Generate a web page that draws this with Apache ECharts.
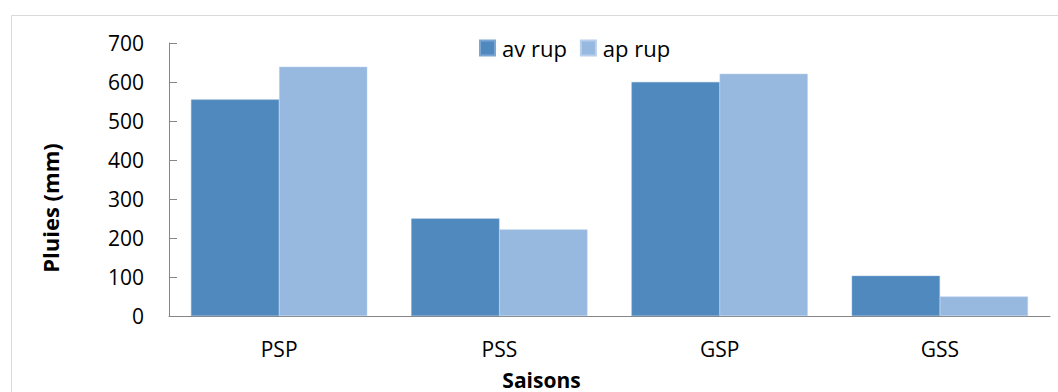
<!DOCTYPE html>
<html>
<head>
<meta charset="utf-8">
<script src="https://cdn.jsdelivr.net/npm/echarts@6/dist/echarts.min.js"></script>
<style>html,body{margin:0;padding:0;background:#fff}#c{width:1058px;height:392px}</style>
</head>
<body>
<div id="c"></div>
<script>
var categories = ['PSP', 'PSS', 'GSP', 'GSS'];
var avRup = [555, 250, 600, 103];
var apRup = [639, 222, 621, 50];
var seriesNames = ['av rup', 'ap rup'];
var yTicks = [0, 100, 200, 300, 400, 500, 600, 700];

var font = '"Open Sans", "Noto Sans", sans-serif';
var chart = echarts.init(document.getElementById('c'), null, {renderer: 'svg'});
chart.setOption({
  animation: false,
  backgroundColor: '#fff',
  graphic: [{
    type: 'rect', left: 9, top: 13,
    shape: {width: 1060, height: 400},
    style: {fill: 'none', stroke: '#d9d9d9', lineWidth: 1}
  }],
  legend: {
    left: 474, top: 32,
    itemWidth: 15, itemHeight: 15, itemGap: 13,
    icon: 'rect',
    textStyle: {fontFamily: font, fontSize: 22, color: '#000', padding: [0, 0, 0, 2]},
    data: seriesNames
  },
  grid: {left: 169, right: 8, top: 43, bottom: 76, containLabel: false, outerBoundsMode: 'none'},
  xAxis: {
    type: 'category', data: categories,
    name: 'Saisons', nameLocation: 'middle', nameGap: 53,
    nameTextStyle: {fontFamily: font, fontSize: 21, fontWeight: 'bold', color: '#000', padding: [0, 136, 0, 0]},
    axisLine: {lineStyle: {color: '#868686', width: 1}},
    axisTick: {inside: true, length: 9, lineStyle: {color: '#868686'}},
    axisLabel: {fontFamily: font, fontSize: 21, color: '#000', margin: 22}
  },
  yAxis: {
    type: 'value', min: 0, max: 700, interval: 100,
    name: 'Pluies (mm)', nameLocation: 'middle', nameGap: 108,
    nameTextStyle: {fontFamily: font, fontSize: 22, fontWeight: 'bold', color: '#000', padding: [0, 57, 0, 0]},
    axisLine: {show: true, lineStyle: {color: '#868686', width: 1}},
    axisTick: {show: true, inside: true, length: 8, lineStyle: {color: '#868686'}},
    splitLine: {show: false},
    axisLabel: {fontFamily: font, fontSize: 21, color: '#000', margin: 25,
      formatter: function (v) { return yTicks.indexOf(v) >= 0 ? String(v) : ''; }}
  },
  series: [
    {name: seriesNames[0], type: 'bar', data: avRup, barGap: '0%', barCategoryGap: '20%',
     itemStyle: {color: '#4F89BD', borderColor: '#7aa6d3', borderWidth: 0.5}},
    {name: seriesNames[1], type: 'bar', data: apRup, barGap: '0%', barCategoryGap: '20%',
     itemStyle: {color: '#97B8DF', borderColor: '#b7cfec', borderWidth: 0.5}}
  ]
});
</script>
</body>
</html>
